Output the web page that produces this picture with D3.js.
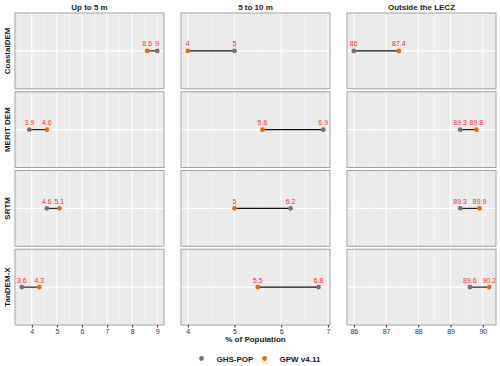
<!DOCTYPE html>
<html>
<head>
<meta charset="utf-8">
<script src="https://cdn.jsdelivr.net/npm/d3@7"></script>
<style>
  body { margin: 0; background: #fff; }
  svg { font-family: "Liberation Sans", Arial, sans-serif; }
</style>
</head>
<body>
<div id="chart"></div>
<script>
// data
var dems = ["CoastalDEM", "MERIT DEM", "SRTM", "TanDEM-X"];
var zones = ["Up to 5 m", "5 to 10 m", "Outside the LECZ"];
var ghsPop = [[9, 5, 86], [3.9, 6.9, 89.3], [4.6, 6.2, 89.3], [3.6, 6.8, 89.6]];
var gpw = [[8.6, 4, 87.4], [4.6, 5.6, 89.8], [5.1, 5, 89.9], [4.3, 5.5, 90.2]];
var xTicks = [[4, 5, 6, 7, 8, 9], [4, 5, 6, 7], [86, 87, 88, 89, 90]];
var seriesNames = ["GHS-POP", "GPW v4.11"];

(function() {
  var width = 500, height = 366;
  var colors = { "GHS-POP": "#8a6879", "GPW v4.11": "#de6d0c" };

  var svg = d3.select("#chart")
    .append("svg")
    .attr("width", width)
    .attr("height", height);

  // facet layout
  var colScale = d3.scaleBand()
    .domain(zones)
    .range([15, 496])
    .paddingInner(0.1024);

  var rowScale = d3.scaleBand()
    .domain(dems)
    .range([13, 325])
    .paddingInner(0.038);

  var pw = colScale.bandwidth(), ph = rowScale.bandwidth();

  // one x scale per column, ggplot-like 5% expansion
  var xScales = zones.map(function(z, j) {
    var vals = [];
    dems.forEach(function(d, i) { vals.push(ghsPop[i][j], gpw[i][j]); });
    var ext = d3.extent(vals), pad = (ext[1] - ext[0]) * 0.05;
    return d3.scaleLinear().domain([ext[0] - pad, ext[1] + pad]).range([0, pw]);
  });

  // column strips
  svg.selectAll(".col-strip")
    .data(zones)
    .enter().append("text")
    .attr("class", "col-strip")
    .attr("x", function(d) { return colScale(d) + pw / 2; })
    .attr("y", 9.5)
    .attr("text-anchor", "middle")
    .attr("font-size", "8px")
    .attr("font-weight", "bold")
    .attr("fill", "#1a1a1a")
    .text(function(d) { return d; });

  // row strips
  svg.selectAll(".row-strip")
    .data(dems)
    .enter().append("text")
    .attr("class", "row-strip")
    .attr("transform", function(d) {
      return "translate(10," + (rowScale(d) + ph / 2) + ") rotate(-90)";
    })
    .attr("text-anchor", "middle")
    .attr("font-size", "8px")
    .attr("font-weight", "bold")
    .attr("fill", "#1a1a1a")
    .text(function(d) { return d; });

  dems.forEach(function(dem, i) {
    zones.forEach(function(zone, j) {
      var x = xScales[j];
      var g = svg.append("g")
        .attr("transform", "translate(" + colScale(zone) + "," + rowScale(dem) + ")");

      g.append("rect")
        .attr("width", pw)
        .attr("height", ph)
        .attr("fill", "#ebebeb");

      // minor grid
      var minor = xTicks[j].map(function(t) { return t - 0.5; })
        .concat([xTicks[j][xTicks[j].length - 1] + 0.5])
        .filter(function(t) { return t > x.domain()[0] && t < x.domain()[1]; });
      g.selectAll(".minor")
        .data(minor)
        .enter().append("line")
        .attr("x1", function(d) { return x(d); })
        .attr("x2", function(d) { return x(d); })
        .attr("y1", 0)
        .attr("y2", ph)
        .attr("stroke", "#f6f6f6")
        .attr("stroke-width", 0.6);

      // major grid
      g.selectAll(".major")
        .data(xTicks[j])
        .enter().append("line")
        .attr("x1", function(d) { return x(d); })
        .attr("x2", function(d) { return x(d); })
        .attr("y1", 0)
        .attr("y2", ph)
        .attr("stroke", "#fff")
        .attr("stroke-width", 1.1);

      g.append("line")
        .attr("x1", 0).attr("x2", pw)
        .attr("y1", ph / 2).attr("y2", ph / 2)
        .attr("stroke", "#fff")
        .attr("stroke-width", 1.1);

      // dumbbell
      var a = ghsPop[i][j], b = gpw[i][j];
      g.append("line")
        .attr("x1", x(a)).attr("x2", x(b))
        .attr("y1", ph / 2).attr("y2", ph / 2)
        .attr("stroke", "#111")
        .attr("stroke-width", 1.1);

      var pts = [{ s: "GHS-POP", v: a }, { s: "GPW v4.11", v: b }];
      g.selectAll(".pt")
        .data(pts)
        .enter().append("circle")
        .attr("cx", function(d) { return x(d.v); })
        .attr("cy", ph / 2)
        .attr("r", 2.4)
        .attr("fill", function(d) { return colors[d.s]; });

      g.selectAll(".lbl")
        .data(pts)
        .enter().append("text")
        .attr("x", function(d) { return x(d.v); })
        .attr("y", ph / 2 - 4.5)
        .attr("text-anchor", "middle")
        .attr("font-size", "7px")
        .attr("fill", "#ff2b2b")
        .text(function(d) { return d.v; });

      g.append("rect")
        .attr("width", pw)
        .attr("height", ph)
        .attr("fill", "none")
        .attr("stroke", "#a3a3a3")
        .attr("stroke-width", 1);

      // bottom axis only on last row
      if (i === dems.length - 1) {
        var axis = d3.axisBottom(x)
          .tickValues(xTicks[j])
          .tickSize(2.5)
          .tickPadding(1.5)
          .tickFormat(d3.format("d"));
        var ax = g.append("g")
          .attr("class", "axis x-axis")
          .attr("transform", "translate(0," + ph + ")")
          .call(axis);
        ax.select(".domain").remove();
        ax.selectAll(".tick line").attr("stroke", "#333");
        ax.selectAll(".tick text")
          .attr("fill", "#333")
          .attr("font-size", "7px")
          .attr("font-family", "Liberation Sans, Arial, sans-serif");
      }
    });
  });

  // axis title
  svg.append("text")
    .attr("x", (15 + 496) / 2)
    .attr("y", 342)
    .attr("text-anchor", "middle")
    .attr("font-size", "8px")
    .attr("font-weight", "bold")
    .attr("fill", "#1a1a1a")
    .text("% of Population");

  // legend
  var legendX = d3.scaleOrdinal().domain(seriesNames).range([201.5, 264.5]);
  var lg = svg.selectAll(".legend")
    .data(seriesNames)
    .enter().append("g")
    .attr("class", "legend")
    .attr("transform", function(d) { return "translate(" + legendX(d) + ",358.5)"; });
  lg.append("circle")
    .attr("r", 2.4)
    .attr("fill", function(d) { return colors[d]; });
  lg.append("text")
    .attr("x", 15)
    .attr("y", 3)
    .attr("font-size", "8px")
    .attr("font-weight", "bold")
    .attr("fill", "#1a1a1a")
    .text(function(d) { return d; });
})();
</script>
</body>
</html>
